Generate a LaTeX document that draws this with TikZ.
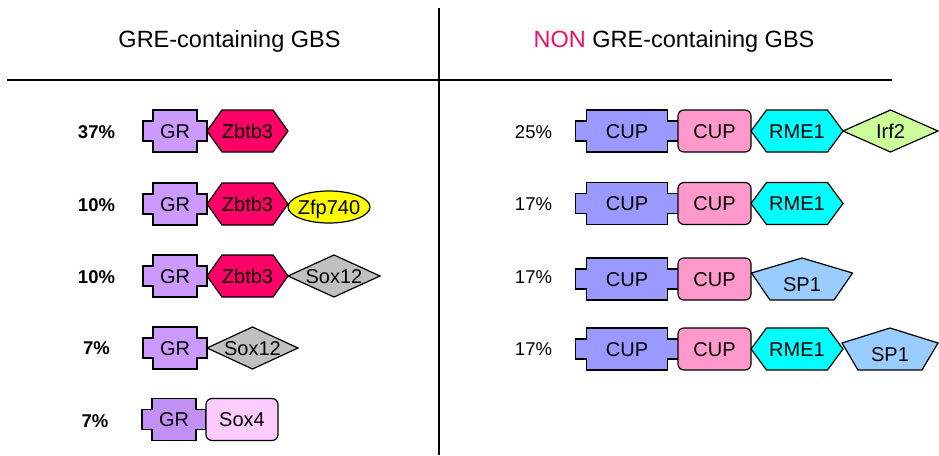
\documentclass[tikz,border=0pt]{standalone}
\usepackage{fontspec}
\setmainfont{Liberation Sans}
\usetikzlibrary{shapes.geometric}

\definecolor{grpurple}{HTML}{CC99FF}
\definecolor{grpurpledark}{HTML}{C28FF5}
\definecolor{zbcrimson}{HTML}{FF0066}
\definecolor{zfyellow}{HTML}{FFFF00}
\definecolor{soxgray}{HTML}{C0C0C0}
\definecolor{soxpink}{HTML}{FFCCFF}
\definecolor{cupblue}{HTML}{9999FF}
\definecolor{cuppink}{HTML}{FF99CC}
\definecolor{rmecyan}{HTML}{00FFFF}
\definecolor{irfgreen}{HTML}{CCFF99}
\definecolor{spblue}{HTML}{99CCFF}
\definecolor{nonpink}{HTML}{EE1166}

\tikzset{
  outline/.style={draw=black, line width=1.2pt, line join=miter},
  lbl/.style={font=\fontsize{20}{24}\selectfont, inner sep=0pt, anchor=base},
  pctleft/.style={font=\bfseries\fontsize{18.5}{22}\selectfont, inner sep=0pt, anchor=base},
  pctright/.style={font=\fontsize{18.5}{22}\selectfont, inner sep=0pt, anchor=base},
  heading/.style={font=\fontsize{23.5}{28}\selectfont, inner sep=0pt, anchor=base},
  divider/.style={draw=black, line width=1.4pt},
  % box with notched corners: inner half width, outer half width, fill, text
  pics/crossbox/.style n args={4}{code={
    \path[outline, fill=#3] (-#1,-21) -- (#1,-21) -- (#1,-10) -- (#2,-10) -- (#2,10)
      -- (#1,10) -- (#1,21) -- (-#1,21) -- (-#1,10) -- (-#2,10) -- (-#2,-10)
      -- (-#1,-10) -- cycle;
    \node[lbl] (-t) at (0,7) {#4};
  }},
  % pointed hexagon: outer half width, inner half width, fill, text
  pics/hexbox/.style n args={4}{code={
    \path[outline, fill=#3] (-#1,0) -- (-#2,-21) -- (#2,-21) -- (#1,0) -- (#2,21)
      -- (-#2,21) -- cycle;
    \node[lbl] (-t) at (0,7) {#4};
  }},
  % diamond: half width, fill, text
  pics/diamondbox/.style n args={3}{code={
    \path[outline, fill=#2] (-#1,0) -- (0,-21) -- (#1,0) -- (0,21) -- cycle;
    \node[lbl] (-t) at (0,7) {#3};
  }},
  % pentagon: half width, fill, text
  pics/pentbox/.style n args={3}{code={
    \path[outline, fill=#2] (0,-21) -- (#1,-6) -- (32,21) -- (-32,21) -- (-#1,-6) -- cycle;
    \node[lbl] (-t) at (0,12) {#3};
  }},
  % rounded rectangle: half width, fill, text
  pics/roundbox/.style n args={3}{code={
    \path[outline, fill=#2, rounded corners=6pt] (-#1,-21) rectangle (#1,21);
    \node[lbl] (-t) at (0,7) {#3};
  }},
  % ellipse: fill, text
  pics/ovalbox/.style n args={2}{code={
    \path[outline, fill=#1] (0,0) ellipse [x radius=41pt, y radius=16pt];
    \node[lbl] (-t) at (0,7) {#2};
  }},
}

\begin{document}
\begin{tikzpicture}[x=1pt, y=-1pt]
  \fill[white] (0,0) rectangle (939,455);
  \useasboundingbox (0,0) rectangle (939,455);

  % table rules
  \coordinate (hl) at (7,80);
  \coordinate (hr) at (892,80);
  \coordinate (vt) at (439,8);
  \coordinate (vb) at (439,455);
  \draw[divider] (hl) -- (hr);
  \draw[divider] (vt) -- (vb);

  % headings
  \node[heading] (headleft) at (229.5,47) {GRE-containing GBS};
  \node[heading] (headright) at (674,47) {\textcolor{nonpink}{NON} GRE-containing GBS};

  % GRE-containing combinations
  \node[pctleft] (pl1) at (96.5,138) {37\%};
  \pic (l1a) at (175,131) {crossbox={22}{32}{grpurple}{GR}};
  \pic (l1b) at (247.5,131) {hexbox={40.5}{25.5}{zbcrimson}{Zbtb3}};

  \node[pctleft] (pl2) at (96.5,211) {10\%};
  \pic (l2a) at (175,204) {crossbox={22}{32}{grpurple}{GR}};
  \pic (l2b) at (247.5,204) {hexbox={40.5}{25.5}{zbcrimson}{Zbtb3}};
  \pic (l2c) at (329,207) {ovalbox={zfyellow}{Zfp740}};

  \node[pctleft] (pl3) at (96.5,283) {10\%};
  \pic (l3a) at (175,276) {crossbox={22}{32}{grpurple}{GR}};
  \pic (l3b) at (247.5,276) {hexbox={40.5}{25.5}{zbcrimson}{Zbtb3}};
  \pic (l3c) at (334,276) {diamondbox={46}{soxgray}{Sox12}};

  \node[pctleft] (pl4) at (96.5,354) {7\%};
  \pic (l4a) at (175,348) {crossbox={22}{32}{grpurple}{GR}};
  \pic (l4b) at (252.5,348) {diamondbox={45.5}{soxgray}{Sox12}};

  \node[pctleft] (pl5) at (95,427) {7\%};
  \pic (l5a) at (174,419.5) {crossbox={22}{32}{grpurpledark}{GR}};
  \pic (l5b) at (242,419.5) {roundbox={36}{soxpink}{Sox4}};

  % non GRE-containing combinations
  \node[pctright] (pr1) at (533.5,138) {25\%};
  \pic (r1a) at (627,131) {crossbox={40.5}{51.5}{cupblue}{CUP}};
  \pic (r1b) at (714.5,131) {roundbox={36.5}{cuppink}{CUP}};
  \pic (r1c) at (797,131) {hexbox={46}{30.5}{rmecyan}{RME1}};
  \pic (r1d) at (890.5,131) {diamondbox={47.5}{irfgreen}{Irf2}};

  \node[pctright] (pr2) at (533.5,210.5) {17\%};
  \pic (r2a) at (627,203.5) {crossbox={40.5}{51.5}{cupblue}{CUP}};
  \pic (r2b) at (714.5,203.5) {roundbox={36.5}{cuppink}{CUP}};
  \pic (r2c) at (797,203.5) {hexbox={46}{30.5}{rmecyan}{RME1}};

  \node[pctright] (pr3) at (533.5,283) {17\%};
  \pic (r3a) at (627,279) {crossbox={40.5}{51.5}{cupblue}{CUP}};
  \pic (r3b) at (714.5,279) {roundbox={36.5}{cuppink}{CUP}};
  \pic (r3c) at (802,279) {pentbox={50.5}{spblue}{SP1}};

  \node[pctright] (pr4) at (533.5,355) {17\%};
  \pic (r4a) at (627,349) {crossbox={40.5}{51.5}{cupblue}{CUP}};
  \pic (r4b) at (714.5,349) {roundbox={36.5}{cuppink}{CUP}};
  \pic (r4c) at (797,349) {hexbox={46}{30.5}{rmecyan}{RME1}};
  \pic (r4d) at (890,349) {pentbox={48}{spblue}{SP1}};
\end{tikzpicture}
\end{document}
